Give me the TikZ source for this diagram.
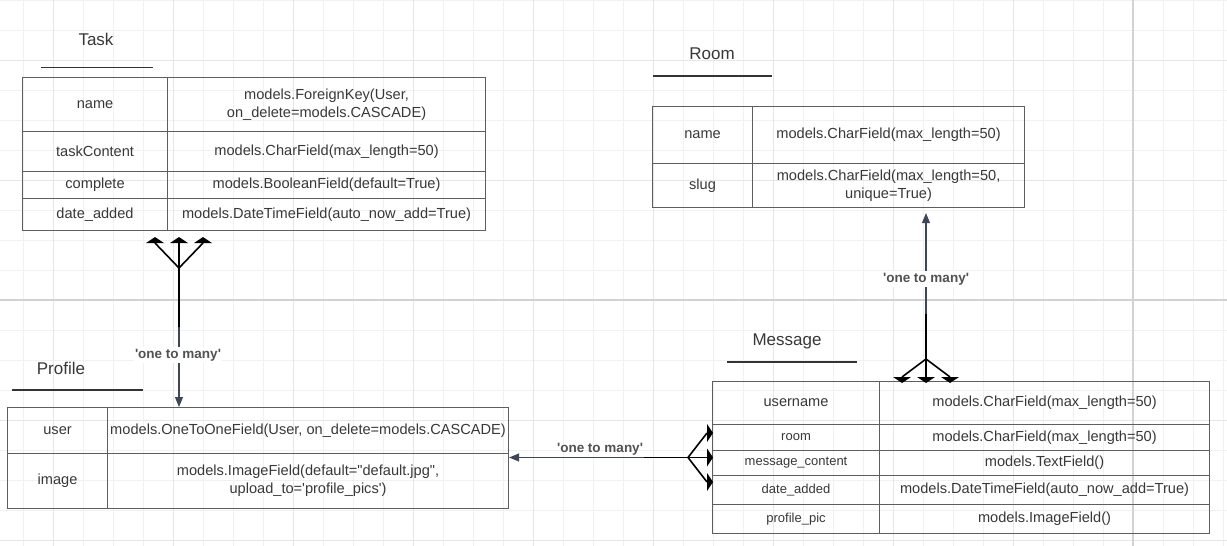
\documentclass[tikz,border=0pt]{standalone}
\usepackage{fontspec}
\setmainfont{Liberation Sans}
\usetikzlibrary{arrows.meta}

\definecolor{gridminor}{HTML}{F1F1F1}
\definecolor{gridmajor}{HTML}{E6E6E6}
\definecolor{tableline}{HTML}{5E5E5E}
\definecolor{inktext}{HTML}{383838}
\definecolor{slate}{HTML}{3D4757}

\newcommand\fieldfont{\fontsize{14.6}{18}\selectfont}
\newcommand\smallfieldfont{\fontsize{13}{16}\selectfont}
\newcommand\titlefont{\fontsize{17}{20}\selectfont}
\newcommand\relfont{\fontsize{13.5}{16}\selectfont\bfseries}
\newcommand\sq{\textquotesingle}
\newcommand\dq{\textquotedbl}

\tikzset{
  cell/.style={draw=tableline, line width=1.1pt, anchor=north west, inner sep=0pt,
    align=center, text=inktext, font=\fieldfont},
  title/.style={text=inktext, font=\titlefont},
  titlerule/.style={draw=black!80, line width=1.6pt},
  relation/.style={fill=white, text=black!68, font=\relfont, inner sep=1.5pt},
  crow/.style={draw=black, line width=1.6pt},
  link/.style={draw=slate, line width=1.1pt, -{Triangle[length=10pt,width=8pt]}},
  crowhead/.pic={\fill[black] (-9,0) -- (9,0) -- (0,-6) -- cycle;}
}

\begin{document}
\begin{tikzpicture}[x=1pt, y=-1pt]
  \useasboundingbox (0,0) rectangle (1227,546);
  \fill[white] (0,0) rectangle (1227,546);

  % grid
  \foreach \gx in {23,53,...,1223}{
    \draw[gridminor, line width=1pt] (\gx,0) -- (\gx,546);
  }
  \foreach \gy in {0,30,...,540}{
    \draw[gridminor, line width=1pt] (0,\gy) -- (1227,\gy);
  }
  \foreach \gx in {53,173,...,1133}{
    \draw[gridmajor, line width=1pt] (\gx,0) -- (\gx,546);
  }
  \foreach \gy in {60,180,...,540}{
    \draw[gridmajor, line width=1pt] (0,\gy) -- (1227,\gy);
  }
  \draw[gridmajor!80!gray, line width=1.6pt] (0,300) -- (1227,300);
  \draw[gridmajor!80!gray, line width=1.4pt] (1133,0) -- (1133,546);

  % Task
  \node[title] (task-title) at (96,39) {Task};
  \draw[titlerule] (41,67.5) -- (153,67.5);
  \foreach \n/\top/\h/\key/\val in {
      1/77/54pt/name/{models.ForeignKey(User,\\on\_delete=models.CASCADE)},
      2/131/40pt/taskContent/{models.CharField(max\_length=50)},
      3/171/27pt/complete/{models.BooleanField(default=True)},
      4/198/32pt/date\_added/{models.DateTimeField(auto\_now\_add=True)}}{
    \node[cell, minimum width=145pt, minimum height=\h] (task-k\n) at (22,\top) {\key};
    \node[cell, minimum width=318pt, minimum height=\h] (task-v\n) at (167,\top) {\val};
  }

  % Room
  \node[title] (room-title) at (712,54) {Room};
  \draw[titlerule] (653,76) -- (772,76);
  \foreach \n/\top/\h/\key/\val in {
      1/106/57pt/name/{models.CharField(max\_length=50)},
      2/163/44pt/slug/{models.CharField(max\_length=50,\\unique=True)}}{
    \node[cell, minimum width=100pt, minimum height=\h] (room-k\n) at (652,\top) {\key};
    \node[cell, minimum width=272pt, minimum height=\h] (room-v\n) at (752,\top) {\val};
  }

  % Profile
  \node[title] (profile-title) at (61,368) {Profile};
  \draw[titlerule] (12,390) -- (143,390);
  \foreach \n/\top/\h/\key/\val in {
      1/407/46pt/user/{models.OneToOneField(User, on\_delete=models.CASCADE)},
      2/453/55pt/image/{models.ImageField(default=\dq default.jpg\dq,\\upload\_to=\sq profile\_pics\sq)}}{
    \node[cell, minimum width=100pt, minimum height=\h] (profile-k\n) at (7,\top) {\key};
    \node[cell, minimum width=401pt, minimum height=\h] (profile-v\n) at (107,\top) {\val};
  }

  % Message
  \node[title] (message-title) at (787,341) {Message};
  \draw[titlerule] (727,362) -- (857,362);
  \foreach \n/\top/\h/\kf/\key/\val in {
      1/381/43pt/\fieldfont/username/{models.CharField(max\_length=50)},
      2/424/26pt/\smallfieldfont/room/{models.CharField(max\_length=50)},
      3/450/25pt/\smallfieldfont/message\_content/{models.TextField()},
      4/475/29pt/\smallfieldfont/date\_added/{models.DateTimeField(auto\_now\_add=True)},
      5/504/29pt/\smallfieldfont/profile\_pic/{models.ImageField()}}{
    \node[cell, minimum width=167pt, minimum height=\h, font=\kf] (message-k\n) at (712,\top) {\key};
    \node[cell, minimum width=330pt, minimum height=\h] (message-v\n) at (879,\top) {\val};
  }

  % Task -> Profile
  \coordinate (taskfork) at (179,268);
  \coordinate (taskbreak) at (179,327);
  \coordinate (tasktipL) at (155,243);
  \coordinate (tasktipM) at (179,243);
  \coordinate (tasktipR) at (203,243);
  \draw[link] (taskbreak) -- (taskbreak |- profile-v1.north);
  \draw[crow] (taskbreak) -- (taskfork) -- (tasktipM);
  \draw[crow] (tasktipL) -- (taskfork) -- (tasktipR);
  \foreach \t in {L,M,R}{
    \pic at (tasktip\t) {crowhead};
  }

  % Message -> Room
  \coordinate (msgfork) at (926,359);
  \coordinate (msgbreak) at (926,314);
  \coordinate (msgtipL) at (902,377);
  \coordinate (msgtipM) at (926,377);
  \coordinate (msgtipR) at (950,377);
  \draw[link, shorten >=5pt] (msgbreak) -- (msgbreak |- room-v2.south);
  \draw[crow] (msgbreak) -- (msgfork) -- (msgtipM);
  \draw[crow] (msgtipL) -- (msgfork) -- (msgtipR);
  \foreach \t in {L,M,R}{
    \pic[yscale=-1] at (msgtip\t) {crowhead};
  }

  % Message -> Profile
  \coordinate (sidefork) at (688,457.5);
  \coordinate (sidebreak) at (644,457.5);
  \coordinate (sidetipT) at (707,433);
  \coordinate (sidetipM) at (707,457.5);
  \coordinate (sidetipB) at (707,482);
  \draw[link] (sidebreak) -- (sidebreak -| profile-v2.east);
  \draw[crow] (sidebreak) -- (sidefork) -- (sidetipM);
  \draw[crow] (sidetipT) -- (sidefork) -- (sidetipB);
  \foreach \t in {T,M,B}{
    \pic[rotate=-90] at (sidetip\t) {crowhead};
  }

  % labels
  \node[relation] (rel-task) at (178,355) {\sq one to many\sq};
  \node[relation] (rel-room) at (926,279) {\sq one to many\sq};
  \node[relation, fill=none] (rel-side) at (600,449) {\sq one to many\sq};
\end{tikzpicture}
\end{document}
